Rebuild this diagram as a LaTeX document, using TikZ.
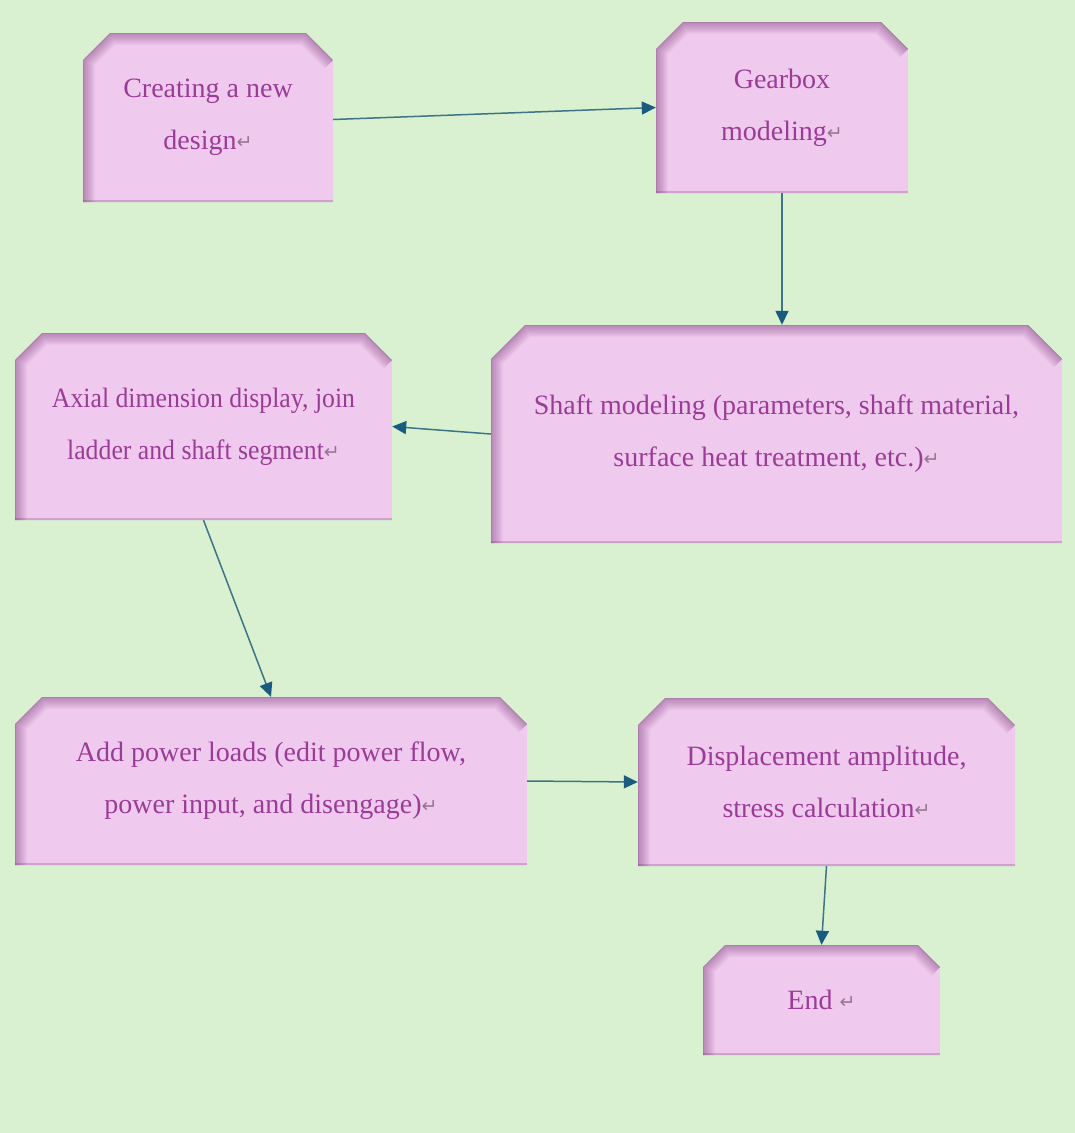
\documentclass[tikz,border=0pt]{standalone}
\usepackage{fontspec}
\setmainfont{Liberation Serif}
\newfontfamily\narrowserif[FakeStretch=0.92]{Liberation Serif}
\newfontfamily\symfont{DejaVu Sans}
\usetikzlibrary{arrows.meta,calc}

\definecolor{bggreen}{HTML}{D9F1D0}
\definecolor{boxpink}{HTML}{F0CAEE}
\definecolor{shadepurple}{HTML}{6E2E6C}
\definecolor{textpurple}{HTML}{9A3C95}
\definecolor{markgray}{HTML}{957592}
\definecolor{linkline}{HTML}{3E7486}
\definecolor{linktip}{HTML}{1B5B7E}

% paragraph mark printed after each label
\newcommand{\pmark}{{\symfont\fontsize{19}{19}\selectfont\color{markgray}\raisebox{1pt}{↵}}}

\tikzset{
  chamfer/.store in=\chamf, chamfer=27pt,
  flowbox/.style={
    rectangle, inner sep=0pt, align=center,
    font=\fontsize{28}{52}\selectfont, text=textpurple,
    path picture={
      \path let \p1=(path picture bounding box.south west),
                \p2=(path picture bounding box.north east) in
        coordinate (@a) at (\x1,\y1)
        coordinate (@b) at (\x1,\y2-\chamf)
        coordinate (@c) at (\x1+\chamf,\y2)
        coordinate (@d) at (\x2-\chamf,\y2)
        coordinate (@e) at (\x2,\y2-\chamf)
        coordinate (@f) at (\x2,\y1);
      \begin{scope}
        \fill[bggreen] (path picture bounding box.south west) rectangle (path picture bounding box.north east);
        \clip (@a) -- (@b) -- (@c) -- (@d) -- (@e) -- (@f) -- cycle;
        \fill[boxpink] (@a) -- (@b) -- (@c) -- (@d) -- (@e) -- (@f) -- cycle;
        % soft inner shading along the left and top edges
        \foreach \w in {24,22,...,2}
          \draw[shadepurple, line width=\w pt, opacity=0.04, line join=miter]
            (@a) -- (@b) -- (@c) -- (@d) -- (@e);
        \draw[shadepurple, line width=1.5pt, opacity=0.15, line join=miter]
            (@a) -- (@b) -- (@c) -- (@d) -- (@e);
        \draw[shadepurple, line width=5pt, opacity=0.25] (@a) -- (@f);
      \end{scope}
    }
  },
  link/.style={draw=linkline, line width=1.5pt,
    -{Triangle[length=14pt,width=13pt,fill=linktip,color=linktip]}}
}

\begin{document}
\begin{tikzpicture}[x=1pt,y=-1pt]
  \fill[bggreen] (0,0) rectangle (1075,1133);
  \useasboundingbox (0,0) rectangle (1075,1133);

  \node[flowbox, minimum width=250pt, minimum height=169pt] (create) at (208,117.5)
    {Creating a new\\ design\pmark};
  \node[flowbox, minimum width=252pt, minimum height=171pt] (gear) at (782,107.5)
    {Gearbox\\ modeling\pmark};
  \node[flowbox, chamfer=34pt, minimum width=571pt, minimum height=218pt] (shaft) at (776.5,434)
    {Shaft modeling (parameters, shaft material,\\ surface heat treatment, etc.)\pmark};
  \node[flowbox, minimum width=377pt, minimum height=187pt,
        font=\narrowserif\fontsize{28}{52}\selectfont] (axial) at (203.5,426.5)
    {Axial dimension display, join\\ ladder and shaft segment\pmark};
  \node[flowbox, minimum width=512pt, minimum height=168pt] (power) at (271,781)
    {Add power loads (edit power flow,\\ power input, and disengage)\pmark};
  \node[flowbox, minimum width=377pt, minimum height=168pt] (disp) at (826.5,782)
    {Displacement amplitude,\\ stress calculation\pmark};
  \node[flowbox, chamfer=22pt, minimum width=237pt, minimum height=110pt] (end) at (821.5,1000)
    {End \pmark};

  \draw[link] ([yshift=-2pt]create.east) -- (gear.west);
  \draw[link] (gear.south) -- (gear.south |- shaft.north);
  \draw[link] (shaft.west) -- (axial.east);
  \draw[link] (axial.south) -- (power.north);
  \draw[link] (power.east) -- (disp.west);
  \draw[link] (disp.south) -- (end.north);
\end{tikzpicture}
\end{document}
